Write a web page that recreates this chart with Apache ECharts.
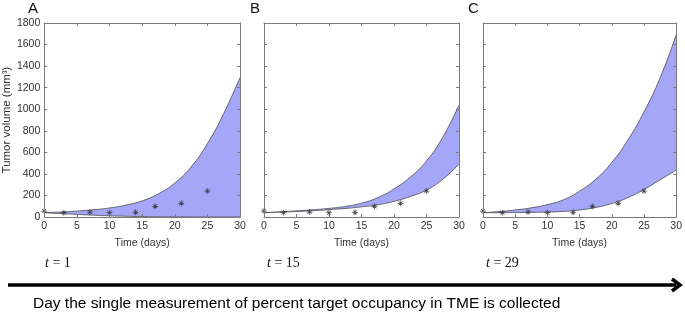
<!DOCTYPE html>
<html><head><meta charset="utf-8">
<script src="https://cdn.jsdelivr.net/npm/echarts@6/dist/echarts.min.js"></script>
<style>html,body{margin:0;padding:0;background:#fff}#c{width:685px;height:316px}</style>
</head><body><div id="c"></div>
<script>
// ---- data ----
const bandDays = [0, 2.5, 5, 7.5, 10, 12.5, 15, 17.5, 20, 22.5, 25, 27.5, 30];
const upperA = [40, 46, 55, 67, 84, 110, 150, 215, 315, 465, 680, 960, 1295];
const lowerA = [40, 32, 24, 17, 11, 7, 4, 2, 1, 0, 0, 0, 0];
const upperB = [40, 48, 57, 67, 80, 98, 128, 180, 260, 370, 520, 740, 1040];
const lowerB = [40, 45, 51, 59, 68, 79, 94, 113, 145, 190, 250, 350, 490];
const upperC = [40, 50, 65, 85, 115, 160, 240, 350, 505, 715, 975, 1290, 1690];
const lowerC = [40, 40, 41, 43, 46, 52, 65, 88, 125, 180, 255, 345, 435];
const obsDays = [0, 3, 7, 10, 14, 17, 21, 25];
const obsVolume = [55, 40, 46, 40, 43, 99, 127, 241];
const xTicks = [0, 5, 10, 15, 20, 25, 30];
const yTicks = [0, 200, 400, 600, 800, 1000, 1200, 1400, 1600, 1800];
const panelLetters = ['A', 'B', 'C'];
const tLabels = ['1', '15', '29'];
const bottomCaption = 'Day the single measurement of percent target occupancy in TME is collected';

const panels = [
  {upper: upperA, lower: lowerA},
  {upper: upperB, lower: lowerB},
  {upper: upperC, lower: lowerC}
];
const gridLefts = [44, 264, 483];
const gridWidths = [196, 195, 194];
const FILL = '#a4a7f8';
const EDGE = '#4a4a4a';
const AX = '#7a7a7a';
const FONT = 'Liberation Sans, Arial, sans-serif';
const SMOOTH = 0.5;

const asterisk = 'path://M4.4,0h1.2v10h-1.2z M0,4.4h10v1.2h-10z M1.2,2.05l0.85,-0.85l6.75,6.75l-0.85,0.85z M7.95,1.2l0.85,0.85l-6.75,6.75l-0.85,-0.85z';

const grid = [], xAxis = [], yAxis = [], series = [];
panels.forEach((p, i) => {
  grid.push({left: gridLefts[i], top: 23, width: gridWidths[i], height: 194, containLabel: false});
  const baseX = {
    type: 'value', min: xTicks[0], max: xTicks[xTicks.length - 1], interval: 5, gridIndex: i, z: 6,
    axisLine: {show: true, onZero: false, lineStyle: {color: AX, width: 1}},
    axisTick: {show: true, inside: true, length: 3, lineStyle: {color: AX}},
    splitLine: {show: false}
  };
  xAxis.push(Object.assign({}, baseX, {
    position: 'bottom',
    axisLabel: {show: true, color: '#333', fontSize: 10.5, fontFamily: FONT, margin: 4},
    name: 'Time (days)', nameLocation: 'middle', nameGap: 21,
    nameTextStyle: {color: '#333', fontSize: 10.5, fontFamily: FONT}
  }));
  xAxis.push(Object.assign({}, baseX, {position: 'top', axisLabel: {show: false}}));
  const baseY = {
    type: 'value', min: yTicks[0], max: yTicks[yTicks.length - 1], interval: 200, gridIndex: i, z: 6,
    axisLine: {show: true, onZero: false, lineStyle: {color: AX, width: 1}},
    axisTick: {show: true, inside: true, length: 3, lineStyle: {color: AX}},
    splitLine: {show: false}
  };
  yAxis.push(Object.assign({}, baseY, {
    position: 'left',
    axisLabel: {show: i === 0, color: '#333', fontSize: 10.5, fontFamily: FONT, margin: 4,
      formatter: v => String(v)},
    name: i === 0 ? 'Tumor volume (mm³)' : '', nameLocation: 'middle', nameGap: 30, nameRotate: 90,
    nameTextStyle: {color: '#333', fontSize: 11.5, fontFamily: FONT}
  }));
  yAxis.push(Object.assign({}, baseY, {position: 'right', axisLabel: {show: false}}));

  // upper boundary with band colour filled down to the axis
  series.push({
    type: 'line', xAxisIndex: 2 * i, yAxisIndex: 2 * i, z: 2,
    data: bandDays.map((d, k) => [d, p.upper[k]]),
    smooth: SMOOTH, symbol: 'none', silent: true,
    lineStyle: {color: EDGE, width: 0.8},
    areaStyle: {color: FILL, opacity: 1, origin: 'start'}
  });
  // lower boundary masks the region below it with white
  series.push({
    type: 'line', xAxisIndex: 2 * i, yAxisIndex: 2 * i, z: 3,
    data: bandDays.map((d, k) => [d, p.lower[k]]),
    smooth: SMOOTH, symbol: 'none', silent: true,
    lineStyle: {color: EDGE, width: 0.8},
    areaStyle: {color: '#ffffff', opacity: 1, origin: 'start'}
  });
  series.push({
    type: 'scatter', xAxisIndex: 2 * i, yAxisIndex: 2 * i,
    data: obsDays.map((d, k) => [d, obsVolume[k]]),
    symbol: asterisk, symbolSize: 6, z: 5,
    itemStyle: {color: '#2a2a2a'}
  });
});

const letterX = [28, 250, 468];
const tX = [45, 267, 486];
const graphic = [];
panelLetters.forEach((L, i) => {
  graphic.push({type: 'text', left: letterX[i], top: 1,
    style: {text: L, fontSize: 15, fontFamily: FONT, fill: '#111'}});
  graphic.push({type: 'text', left: tX[i], top: 256,
    style: {text: '{it|t} = ' + tLabels[i], fontSize: 14, fontFamily: 'Liberation Serif, serif', fill: '#111',
      rich: {it: {fontStyle: 'italic', fontSize: 14, fontFamily: 'Liberation Serif, serif', fill: '#111'}}}});
});
// arrow
graphic.push({type: 'line', shape: {x1: 8, y1: 285, x2: 676, y2: 285}, style: {stroke: '#000', lineWidth: 3.5}});
graphic.push({type: 'polyline', shape: {points: [[672, 279], [680, 285], [672, 291]]},
  style: {stroke: '#000', lineWidth: 3.5, fill: null, lineJoin: 'miter'}});
graphic.push({type: 'text', left: 33, top: 296,
  style: {text: bottomCaption, fontSize: 15.5, fontFamily: FONT, fill: '#000'}});

const chart = echarts.init(document.getElementById('c'), null, {renderer: 'canvas'});
chart.setOption({animation: false, backgroundColor: '#fff', grid, xAxis, yAxis, series, graphic});
</script></body></html>
